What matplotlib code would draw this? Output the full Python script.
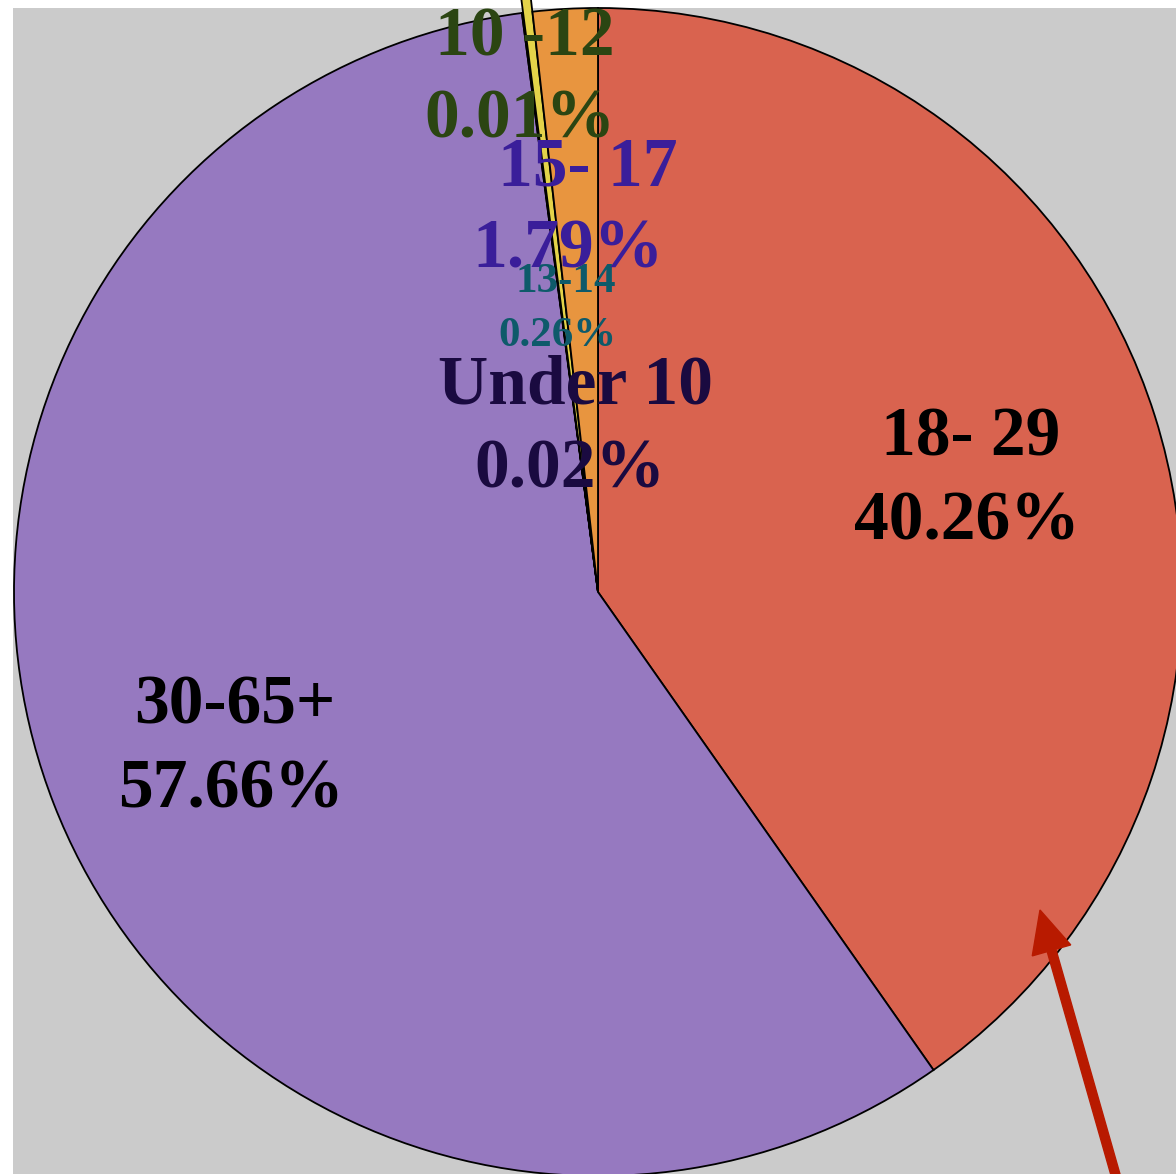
import matplotlib
matplotlib.use("Agg")
import matplotlib.pyplot as plt
from matplotlib.patches import Rectangle, FancyArrow

# Data
categories = ["18- 29", "30-65+", "Under 10", "10 -12", "13-14", "15- 17"]
values = [40.26, 57.66, 0.02, 0.01, 0.26, 1.79]
pct_labels = ["40.26%", "57.66%", "0.02%", "0.01%", "0.26%", "1.79%"]

wedge_colors = ["#D9634F", "#9679C0", "#2E5F70", "#2E5F70", "#E3D34A", "#E8953F"]
label_colors = ["#000000", "#000000", "#1A0A40", "#2B4512", "#0E5A6A", "#3A1E9A"]
explode = [0, 0, 0, 0, 14, 0]

W, H = 1176, 1174
fig = plt.figure(figsize=(W / 100, H / 100), dpi=100)
fig.patch.set_facecolor("white")
ax = fig.add_axes([0, 0, 1, 1])

# gray plot background
ax.add_patch(Rectangle((13, 0), W - 13, H - 8, facecolor="#CBCBCB", edgecolor="none", zorder=0))

cx, cy, R = 598, H - 592, 584
ax.pie(values, colors=wedge_colors, startangle=90, counterclock=False,
       center=(cx, cy), radius=R, explode=explode, frame=True,
       wedgeprops=dict(edgecolor="black", linewidth=1.3))
ax.set_xlim(0, W)
ax.set_ylim(0, H)
ax.set_aspect("equal")
ax.axis("off")

# label layout (image px): (name x, name baseline, pct x, pct baseline, fontsize)
label_pos = {
    "18- 29": (971, 455, 967, 540, 50),
    "30-65+": (235, 723, 231, 808, 50),
    "Under 10": (575, 403, 570, 487, 50),
    "10 -12": (525, 55, 520, 137, 50),
    "13-14": (566, 292, 557, 346, 31),
    "15- 17": (588, 186, 568, 268, 50),
}
for cat, pct, col in zip(categories, pct_labels, label_colors):
    x1, b1, x2, b2, fs = label_pos[cat]
    for txt, x, b in ((cat, x1, b1), (pct, x2, b2)):
        ax.text(x, H - b, txt, ha="center", va="baseline",
                fontsize=fs, fontweight="bold", family="Liberation Serif", color=col,
                zorder=5)

# red arrow
x0, y0 = 1117, H - 1180
x1, y1 = 1040, H - 910
ax.add_patch(FancyArrow(x0, y0, x1 - x0, y1 - y0, width=9, head_width=40, head_length=42,
                        length_includes_head=True, color="#B81A00", zorder=6))

fig.savefig("out.png", dpi=100, facecolor="white")
